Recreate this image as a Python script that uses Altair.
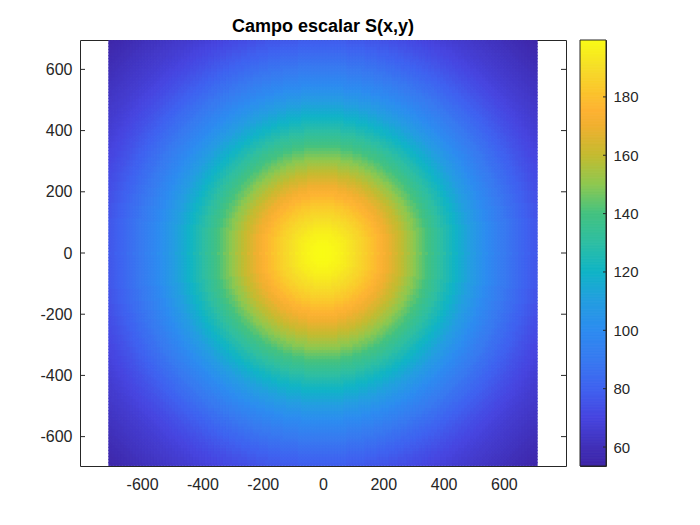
import altair as alt
import pandas as pd

# S read along a radius, one value each 10 units from r = 0
radial_S = [
    199.5, 199.4, 199.2, 198.8, 198.2, 197.4, 196.5, 195.5, 194.3, 193.0,
    191.6, 190.2, 188.7, 187.1, 185.4, 183.7, 182.0, 180.1, 178.2, 176.2,
    174.2, 172.0, 169.9, 167.7, 165.5, 163.2, 161.0, 158.7, 156.4, 154.1,
    151.8, 149.5, 147.2, 144.9, 142.7, 140.4, 138.2, 136.0, 133.8, 131.6,
    129.5, 127.3, 125.2, 123.1, 121.0, 118.9, 116.9, 114.9, 112.9, 110.9,
    109.0, 107.1, 105.2, 103.3, 101.5, 99.7, 98.0, 96.3, 94.6, 92.9,
    91.3, 89.8, 88.3, 86.8, 85.4, 84.0, 82.6, 81.3, 80.0, 78.8,
    77.6, 76.4, 75.3, 74.2, 73.2, 72.2, 71.2, 70.3, 69.4, 68.6,
    67.8, 67.0, 66.3, 65.6, 65.0, 64.4, 63.8, 63.2, 62.6, 62.1,
    61.6, 60.7, 59.9, 59.1, 58.3, 57.5, 56.7, 55.9, 55.2, 54.5, 53.8,
]
x_centres = list(range(-705, 706, 10))
y_centres = list(range(-690, 691, 10))
x_ticks = [-600, -400, -200, 0, 200, 400, 600]
y_ticks = [-600, -400, -200, 0, 200, 400, 600]
bar_ticks = [60, 80, 100, 120, 140, 160, 180]
bar_levels = [53.5 + 0.5 * i for i in range(293)]
stops_S = [53.5, 60, 70, 80, 90, 100, 110, 120, 130, 140, 150, 160, 170, 175, 180, 190, 199.5]
stops_colour = ["#3e26a8", "#4030b8", "#4745e0", "#3f62f0", "#387af0", "#2d8cf0", "#249ee0", "#10b4c6",
                "#2ebea2", "#44c280", "#8ec850", "#c4bb30", "#f0b030", "#fdb233", "#fcc02e", "#f6dd28", "#f9fb15"]

rows = []
for x in x_centres:
    for y in y_centres:
        r = (x * x + y * y) ** 0.5
        rows.append({"x": x - 5, "x2": x + 5, "y": y - 5, "y2": y + 5,
                     "S": radial_S[min(int(round(r / 10)), len(radial_S) - 1)]})
field = pd.DataFrame(rows)
colour = alt.Scale(domain=stops_S, range=stops_colour, interpolate="rgb")
ink = "#262626"
FONT = "Liberation Sans"

xs = alt.Scale(domain=[-806, 806], nice=False, zero=False)
ys = alt.Scale(domain=[-696, 696], nice=False, zero=False)
W, H = 486, 426
label_expr = "toString(datum.value)"

heat = alt.Chart(field).mark_rect(strokeWidth=1.1, clip=True).encode(
    x=alt.X("x:Q", scale=xs, axis=alt.Axis(values=x_ticks, title=None, grid=False, domain=False,
                                           ticks=False, labelPadding=10, labelFontSize=16,
                                           labelColor=ink, labelFont=FONT, labelExpr=label_expr)),
    x2="x2:Q",
    y=alt.Y("y:Q", scale=ys, axis=alt.Axis(values=y_ticks, title=None, grid=False, domain=False,
                                           ticks=False, labelPadding=8, labelFontSize=16,
                                           labelColor=ink, labelFont=FONT, labelExpr=label_expr)),
    y2="y2:Q",
    color=alt.Color("S:Q", scale=colour, legend=None),
    stroke=alt.Color("S:Q", scale=colour, legend=None),
)
yt = pd.DataFrame({"v": y_ticks})
rule = dict(color=ink, strokeWidth=1)
ticks = [
    alt.Chart(yt).mark_rule(**rule).encode(y=alt.Y("v:Q", scale=ys), x=alt.value(0), x2=alt.value(5)),
    alt.Chart(yt).mark_rule(**rule).encode(y=alt.Y("v:Q", scale=ys), x=alt.value(W), x2=alt.value(W - 5)),
]
main = alt.layer(heat, *ticks).properties(
    width=W, height=H,
    title=alt.TitleParams("Campo escalar S(x,y)", fontSize=18, font=FONT, fontWeight="bold",
                          color="#000000", offset=4, anchor="middle"),
)

bs = alt.Scale(domain=[53.5, 199.5], nice=False, zero=False)
bar_df = pd.DataFrame({"S": bar_levels, "S2": [v + 0.5 for v in bar_levels]})
bar = alt.Chart(bar_df).mark_rect(strokeWidth=1, clip=True).encode(
    y=alt.Y("S:Q", scale=bs, axis=alt.Axis(orient="right", values=bar_ticks, title=None, grid=False,
                                           domain=False, ticks=False, labelPadding=7, labelFontSize=15,
                                           labelColor=ink, labelFont=FONT)),
    y2="S2:Q",
    x=alt.value(0), x2=alt.value(26),
    color=alt.Color("S:Q", scale=colour, legend=None),
    stroke=alt.Color("S:Q", scale=colour, legend=None),
)
bar_t = alt.Chart(pd.DataFrame({"v": bar_ticks})).mark_rule(**rule).encode(
    y=alt.Y("v:Q", scale=bs), x=alt.value(23), x2=alt.value(26))
frame_df = pd.DataFrame({"k": [0]})
frame = [
    alt.Chart(frame_df).mark_rule(**rule).encode(x=alt.value(0), y=alt.value(0), y2=alt.value(H)),
    alt.Chart(frame_df).mark_rule(**rule).encode(x=alt.value(26), y=alt.value(0), y2=alt.value(H)),
    alt.Chart(frame_df).mark_rule(**rule).encode(y=alt.value(0), x=alt.value(0), x2=alt.value(26)),
    alt.Chart(frame_df).mark_rule(**rule).encode(y=alt.value(H), x=alt.value(0), x2=alt.value(26)),
]
cbar = alt.layer(bar, bar_t, *frame).properties(width=26, height=H)

chart = alt.hconcat(main, cbar, spacing=12).resolve_scale(color="independent", y="independent").configure(
    background="white", font=FONT,
).configure_view(stroke=ink, strokeWidth=1).properties(
    padding={"left": 31, "top": 9, "right": 0, "bottom": 0}
)
chart.save("out.html", embed_options={"renderer": "svg", "actions": False})
